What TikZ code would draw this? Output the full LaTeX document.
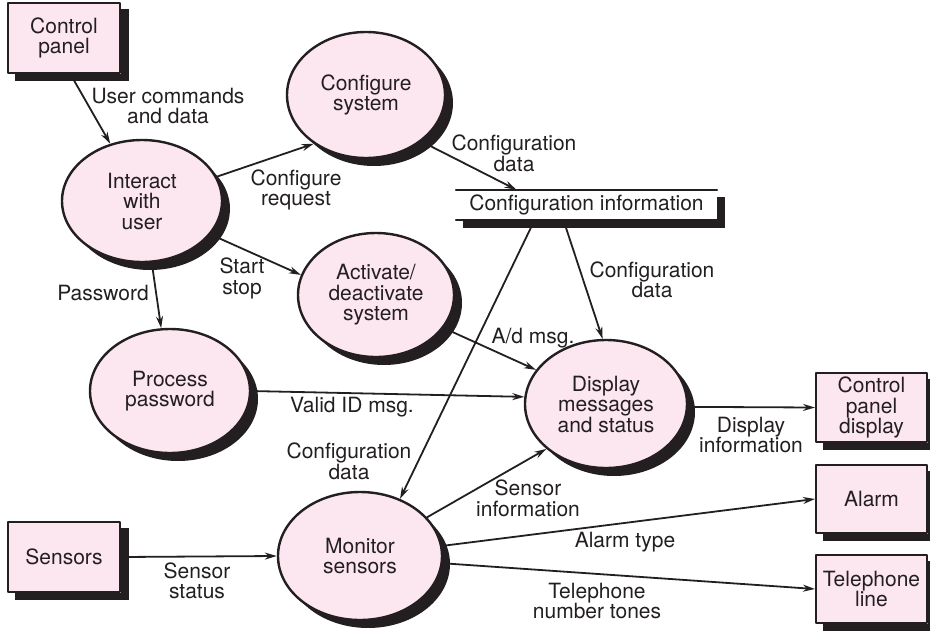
\documentclass[tikz,border=0pt]{standalone}
\usepackage{fontspec}
\setmainfont{TeX Gyre Heros}
\usetikzlibrary{
    arrows.meta,
    calc,
    shapes.geometric
}

\definecolor{ink}{RGB}{35,31,32}
\definecolor{petal}{RGB}{252,230,240}

\begin{document}
\begin{tikzpicture}[
    x=1pt, y=-1pt,
    line cap=round,
    line join=round,
    every node/.style={font=\fontsize{21}{20.5}\selectfont, text=ink},
    flow/.style={-{Stealth[length=12pt,width=7pt]}, line width=1.8pt, draw=ink},
    process/.style={ellipse, draw=ink, line width=2.4pt, fill=petal,
        inner sep=0pt, align=center},
    entity/.style={rectangle, draw=ink, line width=2pt, fill=petal,
        inner sep=0pt, align=center},
    lbl/.style={align=center, inner sep=0pt}
]

\useasboundingbox (0,0) rectangle (930,630);

% -------------------------------------------------
% External entities
% -------------------------------------------------

\node[entity, minimum width=112pt, minimum height=70pt]
    (cp) at (64,38) {Control\\panel};
\node[entity, minimum width=112pt, minimum height=70pt]
    (sensors) at (64,557) {Sensors};
\node[entity, minimum width=111pt, minimum height=69pt]
    (cpd) at (871.5,407.5) {Control\\panel\\display};
\node[entity, minimum width=111pt, minimum height=68pt]
    (alarm) at (871.5,499) {Alarm};
\node[entity, minimum width=111pt, minimum height=68pt]
    (phone) at (871.5,589) {Telephone\\line};

% -------------------------------------------------
% Processes
% -------------------------------------------------

\node[process, minimum width=160pt, minimum height=122pt]
    (interact) at (142,201) {Interact\\with\\user};
\node[process, minimum width=158pt, minimum height=126pt]
    (configure) at (366,95) {Configure\\system};
\node[process, minimum width=156pt, minimum height=124pt]
    (activate) at (376,295) {Activate/\\deactivate\\system};
\node[process, minimum width=160pt, minimum height=124pt]
    (password) at (170,391) {Process\\password};
\node[process, minimum width=162pt, minimum height=128pt]
    (display) at (606,404) {Display\\messages\\and status};
\node[process, minimum width=164pt, minimum height=128pt]
    (monitor) at (360,556) {Monitor\\sensors};

% -------------------------------------------------
% Data store
% -------------------------------------------------

\node[inner sep=0pt, minimum width=261pt, minimum height=30pt]
    (store) at (586.5,205) {Configuration information};

% Shadow of the store
\fill[ink]
    ([xshift=7pt]store.south west) rectangle ([xshift=8pt,yshift=-8pt]store.south east);
\fill[ink]
    ([yshift=-7pt]store.north east) rectangle ([xshift=8pt,yshift=-8pt]store.south east);

\draw[ink, line width=1.8pt] (store.north west) -- (store.north east);
\draw[ink, line width=1.8pt] (store.south west) -- (store.south east);

% -------------------------------------------------
% Shadows of the entities
% -------------------------------------------------

\fill[ink]
    ([xshift=8pt]cp.south west) rectangle ([xshift=8pt,yshift=-7pt]cp.south east);
\fill[ink]
    ([yshift=-7pt]cp.north east) rectangle ([xshift=8pt,yshift=-7pt]cp.south east);
\fill[ink]
    ([xshift=8pt]sensors.south west) rectangle ([xshift=8pt,yshift=-7pt]sensors.south east);
\fill[ink]
    ([yshift=-7pt]sensors.north east) rectangle ([xshift=8pt,yshift=-7pt]sensors.south east);
\fill[ink]
    ([xshift=8pt]cpd.south west) rectangle ([xshift=8pt,yshift=-7pt]cpd.south east);
\fill[ink]
    ([yshift=-7pt]cpd.north east) rectangle ([xshift=8pt,yshift=-7pt]cpd.south east);
\fill[ink]
    ([xshift=8pt]alarm.south west) rectangle ([xshift=8pt,yshift=-7pt]alarm.south east);
\fill[ink]
    ([yshift=-7pt]alarm.north east) rectangle ([xshift=8pt,yshift=-7pt]alarm.south east);
\fill[ink]
    ([xshift=8pt]phone.south west) rectangle ([xshift=8pt,yshift=-7pt]phone.south east);
\fill[ink]
    ([yshift=-7pt]phone.north east) rectangle ([xshift=8pt,yshift=-7pt]phone.south east);

% -------------------------------------------------
% Shadows of the processes (crescents, lower right)
% -------------------------------------------------

\fill[ink] ($(interact.center)+(8pt,-8pt)+(38:80pt and 61pt)$)
    arc[start angle=38, end angle=-142, x radius=80pt, y radius=61pt]
    -- ($(interact.center)+(-142:80pt and 61pt)$)
    arc[start angle=-142, end angle=38, x radius=80pt, y radius=61pt] -- cycle;
\fill[ink] ($(configure.center)+(8pt,-8pt)+(38:79pt and 63pt)$)
    arc[start angle=38, end angle=-142, x radius=79pt, y radius=63pt]
    -- ($(configure.center)+(-142:79pt and 63pt)$)
    arc[start angle=-142, end angle=38, x radius=79pt, y radius=63pt] -- cycle;
\fill[ink] ($(activate.center)+(8pt,-8pt)+(38:78pt and 62pt)$)
    arc[start angle=38, end angle=-142, x radius=78pt, y radius=62pt]
    -- ($(activate.center)+(-142:78pt and 62pt)$)
    arc[start angle=-142, end angle=38, x radius=78pt, y radius=62pt] -- cycle;
\fill[ink] ($(password.center)+(8pt,-8pt)+(38:80pt and 62pt)$)
    arc[start angle=38, end angle=-142, x radius=80pt, y radius=62pt]
    -- ($(password.center)+(-142:80pt and 62pt)$)
    arc[start angle=-142, end angle=38, x radius=80pt, y radius=62pt] -- cycle;
\fill[ink] ($(display.center)+(8pt,-8pt)+(38:81pt and 64pt)$)
    arc[start angle=38, end angle=-142, x radius=81pt, y radius=64pt]
    -- ($(display.center)+(-142:81pt and 64pt)$)
    arc[start angle=-142, end angle=38, x radius=81pt, y radius=64pt] -- cycle;
\fill[ink] ($(monitor.center)+(8pt,-8pt)+(38:82pt and 64pt)$)
    arc[start angle=38, end angle=-142, x radius=82pt, y radius=64pt]
    -- ($(monitor.center)+(-142:82pt and 64pt)$)
    arc[start angle=-142, end angle=38, x radius=82pt, y radius=64pt] -- cycle;

% -------------------------------------------------
% Data flows
% -------------------------------------------------

\draw[flow] (cp.-80) -- (interact.119);
\draw[flow] (interact.18) -- (configure.223);
\draw[flow] (configure.-40) -- ([xshift=-70pt]store.north);
\draw[flow] (interact.-26) -- (activate.165);
\draw[flow] (interact.-81) -- (password.98);
\draw[flow] (password.0) -- (display.175);
\draw[flow] (activate.-26) -- (display.154);
\draw[flow] ([xshift=-23pt]store.south) -- (display.93);
\draw[flow] ([xshift=-52pt]store.south) -- (monitor.55);
\draw[flow] (display.-2) -- (cpd.west);
\draw[flow] (monitor.30) -- (display.-143);
\draw[flow] (monitor.7) -- (alarm.west);
\draw[flow] (monitor.-5) -- (phone.west);
\draw[flow] (sensors.east) -- (monitor.west);

% -------------------------------------------------
% Flow labels
% -------------------------------------------------

\node[lbl] (cmdlbl) at (168,106) {User commands\\and data};
\node[lbl] (reqlbl) at (296,190) {Configure\\request};
\node[lbl] (cfglbl) at (514,153.5) {Configuration\\data};
\node[lbl] (cfgdisp) at (652,280) {Configuration\\data};
\node[lbl] (startlbl) at (242,278.5) {Start\\stop};
\node[lbl] (pwlbl) at (103,293) {Password};
\node[lbl] (adlbl) at (533,338) {A/d msg.};
\node[lbl] (validlbl) at (352,407) {Valid ID msg.};
\node[lbl] (cfgmon) at (349,461.5) {Configuration\\data};
\node[lbl] (displbl) at (751,435) {Display\\information};
\node[lbl] (senslbl) at (528,498.5) {Sensor\\information};
\node[lbl] (alarmlbl) at (625,542) {Alarm type};
\node[lbl] (tonelbl) at (597,601) {Telephone\\number tones};
\node[lbl] (statlbl) at (197,581) {Sensor\\status};

\end{tikzpicture}
\end{document}
